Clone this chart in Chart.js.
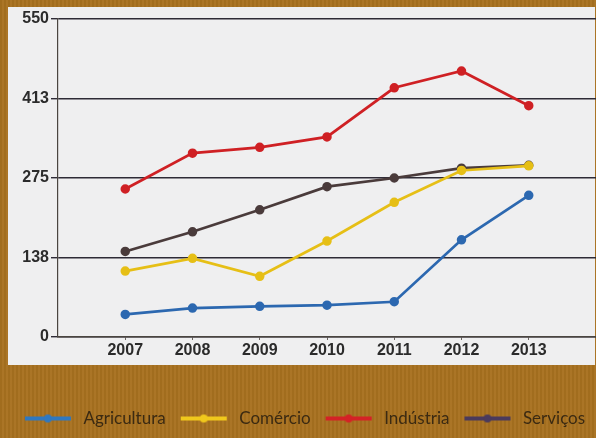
<!DOCTYPE html>
<html>
<head>
<meta charset="utf-8">
<script src="https://cdn.jsdelivr.net/npm/chart.js@4.4.1/dist/chart.umd.min.js"></script>
<style>
  html, body { margin: 0; padding: 0; }
  body {
    width: 596px; height: 438px; overflow: hidden; position: relative;
    background: #a8711f;
    background-image: repeating-linear-gradient(90deg, rgba(0,0,0,0.04) 0 2px, rgba(255,255,255,0.03) 2px 4px);
  }
  #panel {
    position: absolute; left: 8px; top: 7px; width: 587px; height: 358px;
    background: #efeff0;
  }
  #wrap { position: absolute; left: 0; top: 0; width: 596px; height: 438px; }
</style>
</head>
<body>
<div id="panel"></div>
<div id="wrap"><canvas id="chart"></canvas></div>
<script>
// years on the x axis
const years = [2007, 2008, 2009, 2010, 2011, 2012, 2013];
const yTicks = [0, 138, 275, 413, 550];

const agricultura = [39, 50, 53, 55, 61, 168, 245];
const comercio = [114, 136, 105, 166, 233, 288, 296];
const industria = [256, 318, 328, 346, 431, 460, 400];
const servicos = [148, 182, 220, 260, 275, 292, 297];

const names = ["Agricultura", "Comércio", "Indústria", "Serviços"];
const colors = ["#2c68b0", "#e6bf16", "#cf2024", "#4a3b3b"];
const legendColors = ["#2f78c0", "#f0c81c", "#d42226", "#4a3a5c"];
const series = [agricultura, comercio, industria, servicos];

// little line + dot marker for the legend (blank margin left and right for spacing)
function legendMark(color) {
    const c = document.createElement("canvas");
    c.width = 56; c.height = 10;
    const g = c.getContext("2d");
    g.fillStyle = color;
    g.fillRect(6, 3, 46, 4);
    g.beginPath();
    g.arc(29, 5, 4, 0, Math.PI * 2);
    g.fill();
    return c;
}

const datasets = series.map((vals, i) => ({
    label: names[i],
    data: vals.map((v, j) => ({ x: years[j], y: v })),
    borderColor: colors[i],
    backgroundColor: colors[i],
    borderWidth: 2.7,
    pointRadius: 3.4,
    pointHoverRadius: 3.4,
    tension: 0,
    legendMark: legendMark(legendColors[i])
}));

const ctx = document.getElementById("chart").getContext("2d");
new Chart(ctx, {
    type: "line",
    data: { datasets },
    options: {
        responsive: true,
        maintainAspectRatio: false,
        animation: false,
        layout: { autoPadding: false, padding: { top: 19, right: 0, left: 8, bottom: 1 } },
        plugins: {
            tooltip: { enabled: false },
            legend: {
                position: "bottom",
                labels: {
                    usePointStyle: true,
                    pointStyleWidth: 56,
                    padding: 9,
                    color: "#3b2a12",
                    font: { family: "Lato", size: 17 },
                    generateLabels: (chart) => chart.data.datasets.map((d, i) => ({
                        text: d.label,
                        pointStyle: d.legendMark,
                        fontColor: "#3b2a12",
                        datasetIndex: i,
                        lineWidth: 0,
                        strokeStyle: "transparent",
                        fillStyle: "transparent"
                    }))
                }
            }
        },
        scales: {
            x: {
                type: "linear",
                min: 2006,
                max: 2014,
                afterBuildTicks: (s) => { s.ticks = years.map(v => ({ value: v })); },
                afterFit: (s) => { s.height = 64; s.paddingLeft = 0; s.paddingRight = 0; },
                border: { display: true, color: "#4a4540", width: 1.5 },
                grid: { drawOnChartArea: false, tickLength: 3, color: "#6a6560" },
                ticks: {
                    color: "#2b2b2b",
                    font: { family: "Liberation Sans", size: 16, weight: "bold" },
                    padding: 1,
                    callback: (v) => String(v)
                }
            },
            y: {
                min: 0,
                max: 550,
                afterBuildTicks: (s) => { s.ticks = yTicks.map(v => ({ value: v })); },
                afterFit: (s) => { s.width = 50; },
                border: { display: true, color: "#4a4540", width: 1.2 },
                grid: { color: "#2e2b36", lineWidth: 1.4, tickLength: 7 },
                ticks: {
                    color: "#2b2b2b",
                    font: { family: "Liberation Sans", size: 16, weight: "bold" },
                    padding: 2
                }
            }
        }
    }
});
</script>
</body>
</html>
